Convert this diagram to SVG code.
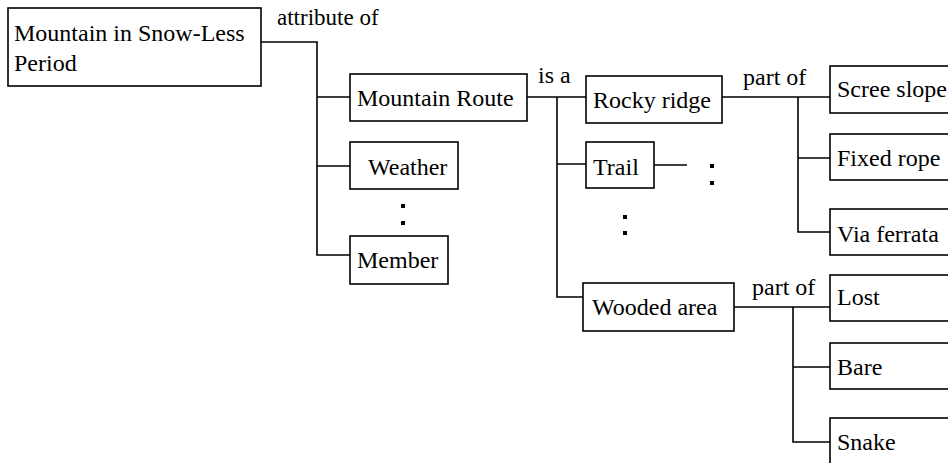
<svg xmlns="http://www.w3.org/2000/svg" width="948" height="463" viewBox="0 0 948 463" font-family="'Liberation Serif', 'DejaVu Serif', Times, serif">
  <style>
    .box { fill: #fff; stroke: #000; stroke-width: 1.6; }
    .lbl { font-family: 'Liberation Serif', 'Times New Roman', 'DejaVu Serif', serif; font-size: 24px; fill: #000; }
    .rel { font-family: 'Liberation Serif', 'Times New Roman', 'DejaVu Serif', serif; font-size: 23px; fill: #000; }
    .wire { fill: none; stroke: #000; stroke-width: 1.6; }
    .dot { fill: #000; }
  </style>
  <rect width="948" height="463" fill="#fff"/>

  <!-- connectors -->
  <g id="connectors">
    <path class="wire" d="M261 42 H317 V255 H350 M317 97 H350 M317 166 H350"/>
    <path class="wire" d="M527 97 H586 M557 97 V297 H583 M557 164 H586"/>
    <path class="wire" d="M654 165 H687"/>
    <path class="wire" d="M722 97 H830 M798 97 V232 H830 M798 158 H830"/>
    <path class="wire" d="M734 307 H830 M793 307 V442 H830 M793 367 H830"/>
    <text class="rel" x="277" y="25">attribute of</text>
    <text class="rel" x="538" y="83" style="font-size:24px">is a</text>
    <text class="rel" x="743" y="85" style="font-size:24px">part of</text>
    <text class="rel" x="752" y="295" style="font-size:24px">part of</text>
    <!-- ellipsis marks -->
    <rect class="dot" x="401" y="204" width="4" height="4"/>
    <rect class="dot" x="401" y="221" width="4" height="4"/>
    <rect class="dot" x="710" y="164" width="4" height="4"/>
    <rect class="dot" x="710" y="181" width="4" height="4"/>
    <rect class="dot" x="623" y="215" width="4" height="4"/>
    <rect class="dot" x="623" y="231" width="4" height="4"/>
  </g>

  <g id="mountain-snowless">
    <rect class="box" x="8" y="8" width="253" height="78"/>
    <text class="lbl" x="14" y="41">Mountain in Snow-Less</text>
    <text class="lbl" x="14" y="71">Period</text>
  </g>
  <g id="mountain-route">
    <rect class="box" x="350" y="74" width="177" height="47"/>
    <text class="lbl" x="357" y="106">Mountain Route</text>
  </g>
  <g id="weather">
    <rect class="box" x="350" y="142" width="108" height="47"/>
    <text class="lbl" x="368" y="175">Weather</text>
  </g>
  <g id="member">
    <rect class="box" x="350" y="236" width="98" height="48"/>
    <text class="lbl" x="357" y="268">Member</text>
  </g>
  <g id="rocky-ridge">
    <rect class="box" x="586" y="76" width="136" height="47"/>
    <text class="lbl" x="593" y="108">Rocky ridge</text>
  </g>
  <g id="trail">
    <rect class="box" x="586" y="142" width="68" height="46"/>
    <text class="lbl" x="593" y="175">Trail</text>
  </g>
  <g id="wooded-area">
    <rect class="box" x="583" y="283" width="151" height="48"/>
    <text class="lbl" x="592" y="315">Wooded area</text>
  </g>
  <g id="scree-slope">
    <rect class="box" x="830" y="66" width="125" height="47"/>
    <text class="lbl" x="837" y="97">Scree slope</text>
  </g>
  <g id="fixed-rope">
    <rect class="box" x="830" y="134" width="125" height="46"/>
    <text class="lbl" x="837" y="166">Fixed rope</text>
  </g>
  <g id="via-ferrata">
    <rect class="box" x="830" y="209" width="125" height="46"/>
    <text class="lbl" x="837" y="242">Via ferrata</text>
  </g>
  <g id="lost">
    <rect class="box" x="830" y="275" width="125" height="46"/>
    <text class="lbl" x="837" y="305">Lost</text>
  </g>
  <g id="bare">
    <rect class="box" x="830" y="343" width="125" height="46"/>
    <text class="lbl" x="837" y="375">Bare</text>
  </g>
  <g id="snake">
    <rect class="box" x="830" y="418" width="125" height="48"/>
    <text class="lbl" x="837" y="450">Snake</text>
  </g>
</svg>
